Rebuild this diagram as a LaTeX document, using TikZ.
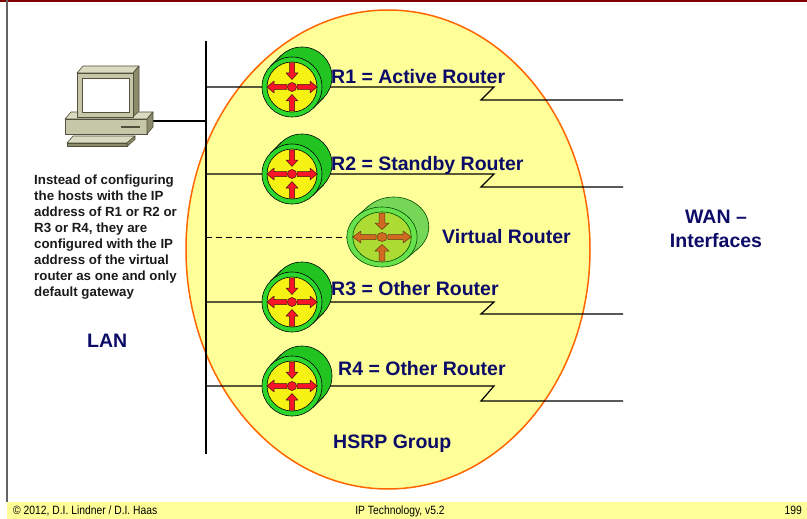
\documentclass[tikz,border=0pt]{standalone}
\usepackage{fontspec}
\setmainfont{Liberation Sans}
\newfontfamily\footfont[FakeStretch=0.86]{Liberation Sans}
\usetikzlibrary{calc}

\definecolor{navy}{RGB}{12,12,104}
\definecolor{paletint}{RGB}{255,255,153}
\definecolor{groupline}{RGB}{255,102,0}
\definecolor{framered}{RGB}{128,0,0}
\definecolor{framegray}{RGB}{100,100,100}
\definecolor{rback}{RGB}{34,196,34}
\definecolor{rring}{RGB}{44,214,44}
\definecolor{rcore}{RGB}{246,242,20}
\definecolor{rarrow}{RGB}{250,20,40}
\definecolor{rout}{RGB}{60,20,20}
\definecolor{vback}{RGB}{118,214,88}
\definecolor{vring}{RGB}{104,226,76}
\definecolor{vcore}{RGB}{172,220,52}
\definecolor{varrow}{RGB}{208,106,34}
\definecolor{vout}{RGB}{90,60,20}
\definecolor{pcface}{RGB}{198,198,168}
\definecolor{pctop}{RGB}{218,218,192}
\definecolor{pcside}{RGB}{140,140,108}
\definecolor{pcedge}{RGB}{80,80,60}

\tikzset{
  wire/.style={draw=black, line width=1.2pt},
  navylabel/.style={text=navy, font=\bfseries\fontsize{19.5}{24}\selectfont, inner sep=0pt},
  pcpart/.style={draw=pcedge, line width=0.6pt, line join=round},
  % router drawn as a short cylinder: back disc, side band, front ring, core, arrows
  pics/router/.style n args={6}{code={
    \fill[#1, draw=#6, line width=0.6pt] (10,-10) circle[radius=30];
    \fill[#1] (21.2,21.2) -- (31.2,11.2) -- (-11.2,-31.2) -- (-21.2,-21.2) -- cycle;
    \draw[#6, line width=0.6pt] (21.2,21.2) -- (31.2,11.2) (-21.2,-21.2) -- (-11.2,-31.2);
    \fill[#2, draw=#6, line width=0.6pt] (0,0) circle[radius=30];
    \fill[#3, draw=#6, line width=0.6pt] (0,0) circle[radius=25];
    \path[fill=#4, draw=#5, line width=0.5pt, line join=round]
      (-2.5,-24) -- (-2.5,-14) -- (-6,-14) -- (0,-7.5) -- (6,-14) -- (2.5,-14) -- (2.5,-24) -- cycle
      (-2.5,24) -- (-2.5,14) -- (-6,14) -- (0,7.5) -- (6,14) -- (2.5,14) -- (2.5,24) -- cycle
      (-5,-2.5) -- (-18,-2.5) -- (-18,-6) -- (-25,0) -- (-18,6) -- (-18,2.5) -- (-5,2.5) -- cycle
      (5,-2.5) -- (18,-2.5) -- (18,-6) -- (25,0) -- (18,6) -- (18,2.5) -- (5,2.5) -- cycle;
    \path[fill=#4, draw=#5, line width=0.5pt] (0,0) circle[radius=4.5];
    \coordinate (-c) at (0,0);
  }},
}

\begin{document}
\begin{tikzpicture}[x=1pt, y=-1pt]
\useasboundingbox (0,0) rectangle (807,519);

% slide frame and footer band
\fill[paletint] (7,502) rectangle (807,519);
\draw[framered, line width=2pt] (0,1) -- (807,1);
\draw[framegray, line width=1.5pt] (7,0) -- (7,502);

% HSRP group area
\fill[paletint, draw=groupline, line width=1.5pt] (388,249.5) ellipse[x radius=202, y radius=239.5];

% LAN bus
\coordinate (bustop) at (206,41);
\coordinate (busbot) at (206,454);
\draw[wire] (bustop) -- (busbot);

% host
\coordinate (pc) at (153,121);
\coordinate (bpc) at (206,121);
\draw[wire] (pc) -- (bpc);
\path[pcpart, fill=pctop] (65,119) -- (71,112) -- (153,112) -- (147,119) -- cycle;
\path[pcpart, fill=pcface] (65,119) rectangle (147,134);
\path[pcpart, fill=pcside] (147,119) -- (153,112) -- (153,127) -- (147,134) -- cycle;
\draw[pcedge, line width=1.6pt] (121,127) -- (140,127);
\path[pcpart, fill=pctop] (73,136) -- (135,136) -- (127,143) -- (67,143) -- cycle;
\path[pcpart, fill=pcside] (67,143) -- (127,143) -- (127,146.5) -- (67,146.5) -- cycle;
\path[pcpart, fill=pcside] (127,143) -- (135,136) -- (135,139.5) -- (127,146.5) -- cycle;
\path[pcpart, fill=pctop] (77,73) -- (83,66) -- (139,66) -- (133,73) -- cycle;
\path[pcpart, fill=pcside] (133,73) -- (139,66) -- (139,111) -- (133,117) -- cycle;
\path[pcpart, fill=pcface] (77,73) rectangle (133,117);
\path[pcpart, fill=white] (82,78) rectangle (129,112);

% router links: bus -> router -> serial kink -> WAN side
\foreach \n/\y/\w in {1/87/100, 2/174/187, 3/302/314, 4/386/401} {
  \coordinate (b\n) at (206,\y);
  \coordinate (k\n) at (494,\y);
  \coordinate (j\n) at (481,\w);
  \coordinate (w\n) at (623,\w);
  \draw[wire, line join=miter] (b\n) -- (k\n) -- (j\n) -- (w\n);
}

% virtual router link
\coordinate (bv) at (206,237);
\coordinate (vv) at (350,237);
\draw[wire, line width=1pt, dash pattern=on 6pt off 4pt] (bv) -- (vv);

% routers
\pic (r1) at (292,87)  {router={rback}{rring}{rcore}{rarrow}{rout}{black}};
\pic (r2) at (292,174) {router={rback}{rring}{rcore}{rarrow}{rout}{black}};
\pic (r3) at (292,302) {router={rback}{rring}{rcore}{rarrow}{rout}{black}};
\pic (r4) at (292,386) {router={rback}{rring}{rcore}{rarrow}{rout}{black}};
\pic[xscale=1.17] (rv) at (382,237) {router={vback}{vring}{vcore}{varrow}{vout}{black!70!green}};

% labels
\node[navylabel, anchor=base west] (l1) at (331,84)  {R1 = Active Router};
\node[navylabel, anchor=base west] (l2) at (331,170) {R2 = Standby Router};
\node[navylabel, anchor=base west] (l3) at (331,295) {R3 = Other Router};
\node[navylabel, anchor=base west] (l4) at (338,375) {R4 = Other Router};
\node[navylabel, anchor=base west] (lv) at (442,243) {Virtual Router};
\node[navylabel, anchor=base west] (lg) at (333,448) {HSRP Group};
\node[navylabel, anchor=base west] (lan) at (87,347) {LAN};
\node[navylabel, align=center] (wan) at (716,229) {WAN --\\Interfaces};

\node[anchor=north west, align=left, inner sep=0pt, text={rgb,255:red,26;green,26;blue,26},
      font=\bfseries\fontsize{13.3}{16}\selectfont] (note) at (34,174.5)
  {Instead of configuring\\the hosts with the IP\\address of R1 or R2 or\\R3 or R4, they are\\configured with the IP\\address of the virtual\\router as one and only\\default gateway};

% footer
\node[anchor=base west, inner sep=0pt, font=\footfont\fontsize{12}{12}\selectfont] (f1) at (13,514) {\textcopyright{} 2012, D.I. Lindner / D.I. Haas};
\node[anchor=base, inner sep=0pt, font=\footfont\fontsize{12}{12}\selectfont] (f2) at (400,514) {IP Technology, v5.2};
\node[anchor=base east, inner sep=0pt, font=\footfont\fontsize{12}{12}\selectfont] (f3) at (802,514) {199};
\end{tikzpicture}
\end{document}
